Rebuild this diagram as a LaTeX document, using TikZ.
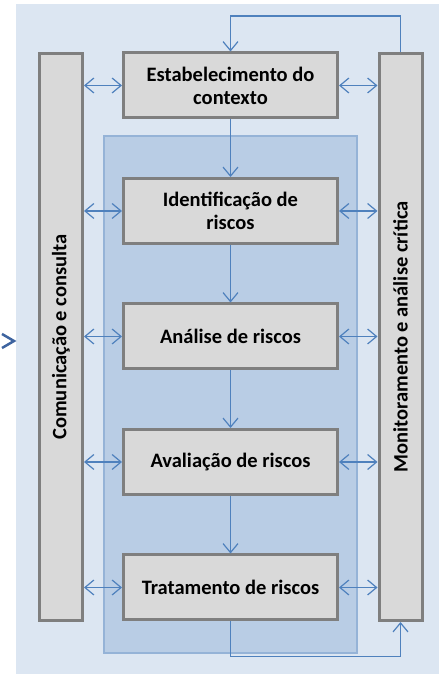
\documentclass[tikz,border=0pt]{standalone}
\usepackage{fontspec}
\setmainfont{Carlito}
\usepackage{graphicx}
\usepackage{xcolor}
\usetikzlibrary{positioning}
\usetikzlibrary{arrows.meta}
\definecolor{fundo}{HTML}{DCE6F2}
\definecolor{interno}{HTML}{B9CDE5}
\definecolor{bordainterna}{HTML}{95B3D7}
\definecolor{caixa}{HTML}{D9D9D9}
\definecolor{bordacaixa}{HTML}{7F7F7F}
\definecolor{azul}{HTML}{4F81BD}
\definecolor{azulescuro}{HTML}{3E64A0}

\begin{document}
\begin{tikzpicture}[x=1pt,y=1pt,>={Straight Barb[length=9pt,width=15pt]},
                    node distance=57.5pt,
                    font=\bfseries\fontsize{20.5}{23}\selectfont,
                    etapa/.style={draw=bordacaixa,fill=caixa,line width=3pt,
                      minimum width=214pt,minimum height=65pt,inner sep=0pt,align=center},
                    barra/.style={draw=bordacaixa,fill=caixa,line width=3pt,
                      minimum width=43pt,minimum height=567pt,inner sep=0pt},
                    seta/.style={draw=azul,line width=1.2pt,->},
                    dupla/.style={draw=azul,line width=1.2pt,<->}]
\useasboundingbox (0,0) rectangle (439,674);
\fill[fundo] (16,0) rectangle (439,670);
\draw[draw=bordainterna,fill=interno,line width=2pt] (104,21) rectangle (357,538);
\draw[azulescuro,line width=2.5pt] (2,340) -- (14,333) -- (2,326);
\node[etapa] (est) at (230.5,588.5) {Estabelecimento do\\contexto};
\node[etapa,below = of est] (ide) {Identificação de\\riscos};
\node[etapa,below = of ide] (ana) {Análise de riscos};
\node[etapa,below = of ana] (ava) {Avaliação de riscos};
\node[etapa,below = of ava] (tra) {Tratamento de riscos};
\node[barra] (com) at (61,337) {\rotatebox{90}{Comunicação e consulta}};
\node[barra] (mon) at (400.5,337) {\rotatebox{90}{Monitoramento e análise crítica}};
\path (est) edge[seta] (ide)
      (ide) edge[seta] (ana)
      (ana) edge[seta] (ava)
      (ava) edge[seta] (tra);
\foreach \n in {est,ide,ana,ava,tra}
  \path (com.east |- \n) edge[dupla] (\n.west)
        (\n.east) edge[dupla] (mon.west |- \n);
\draw[seta] (mon.north) -- ++(0,36) -| (est.north);
\draw[seta] (tra.south) -- ++(0,-35) -| (mon.south);
\end{tikzpicture}
\end{document}
